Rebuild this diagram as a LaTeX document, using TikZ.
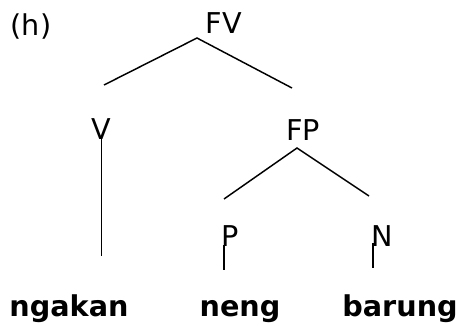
\documentclass[tikz,border=0pt]{standalone}
\usepackage{fontspec}
\setmainfont{DejaVu Sans}
\usepackage{tikz}

\tikzset{
  cat/.style={anchor=base, inner sep=0pt, font=\fontsize{21.5}{26}\selectfont},
  word/.style={cat, font=\fontsize{21.5}{26}\selectfont\bfseries},
  branch/.style={line width=1.1pt}
}

\begin{document}
\begin{tikzpicture}[x=0.75pt, y=-0.75pt]
  \useasboundingbox (0,0) rectangle (460,325);
  % Labels of the tree
  \node[cat] (lbl) at (31,35) {(h)};
  \node[cat] (fv) at (224,33) {FV};
  \node[cat] (v) at (101,139) {V};
  \node[cat] (fp) at (303,140) {FP};
  \node[cat] (p) at (230,246) {P};
  \node[cat] (n) at (382,246) {N};
  % Words
  \foreach \name/\x/\txt in {w1/69/ngakan, w2/240/neng, w3/400/barung}
    \node[word] (\name) at (\x,316) {\txt};
  % Branch points
  \coordinate (fv-top) at (197,38);
  \coordinate (fv-l) at (104,85);
  \coordinate (fv-r) at (292,88);
  \coordinate (fp-top) at (297,148);
  \coordinate (fp-l) at (224,199);
  \coordinate (fp-r) at (369,196);
  \coordinate (v-top) at (101.5,138);
  \coordinate (v-bot) at (101.5,256);
  \coordinate (p-top) at (224,245);
  \coordinate (p-bot) at (224,270);
  \coordinate (n-top) at (373,243);
  \coordinate (n-bot) at (373,268);
  % Branches
  \draw[branch] (fv-l) -- (fv-top) -- (fv-r);
  \draw[branch] (fp-l) -- (fp-top) -- (fp-r);
  \draw[branch] (v-top) -- (v-bot);
  \draw[branch] (p-top) -- (p-bot);
  \draw[branch] (n-top) -- (n-bot);
\end{tikzpicture}
\end{document}
